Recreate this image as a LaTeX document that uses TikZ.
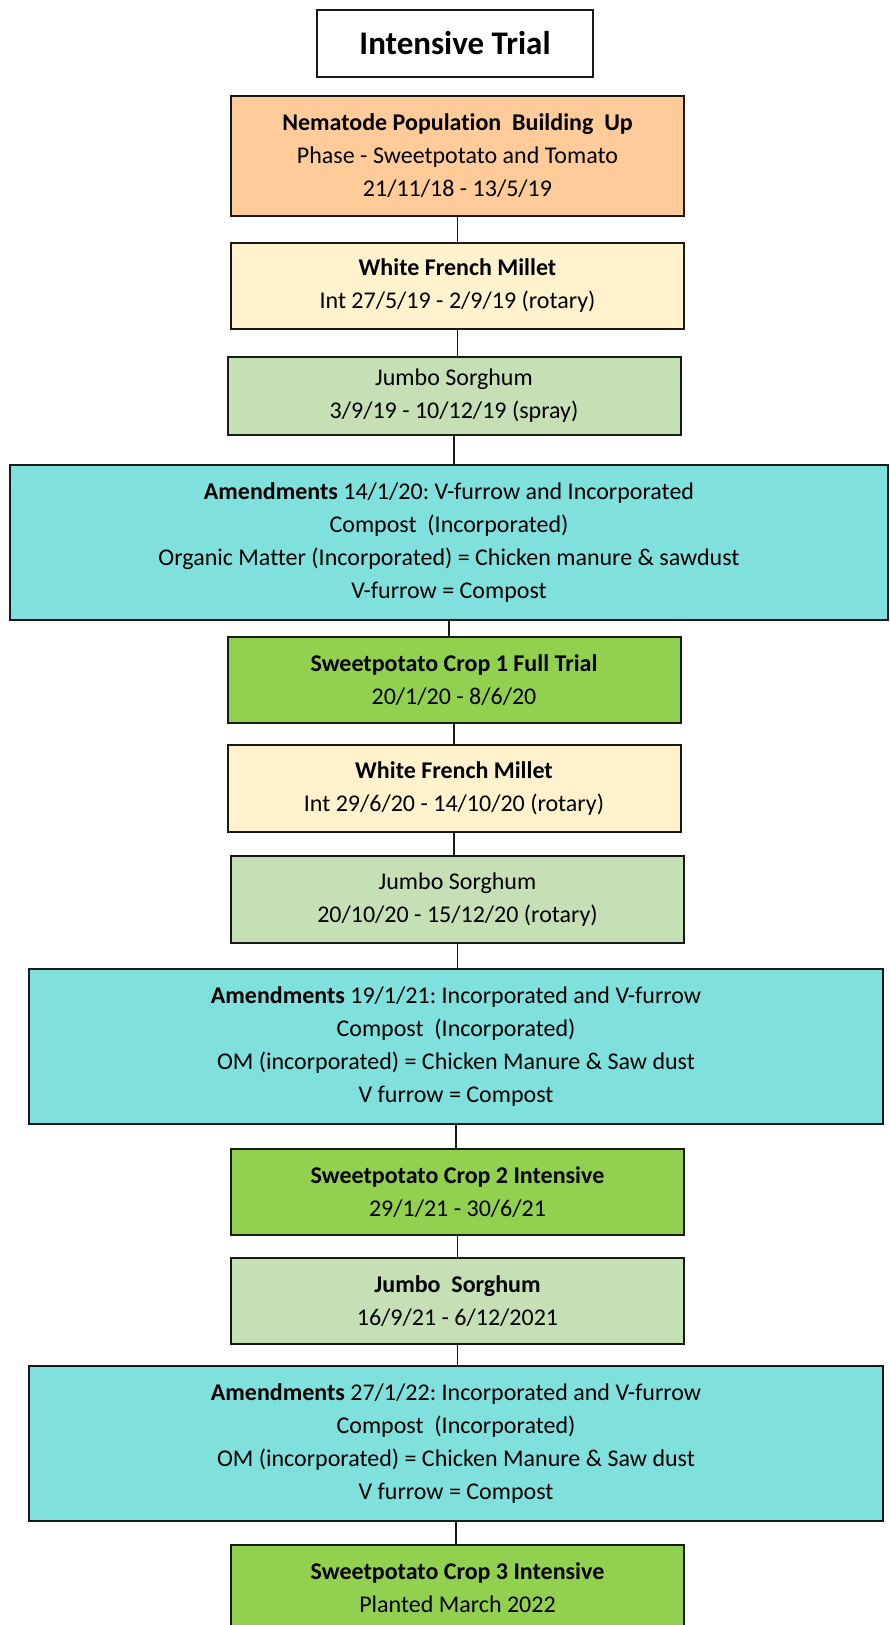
\documentclass[tikz,border=0pt]{standalone}
\usepackage{fontspec}
\setmainfont{Carlito}[Ligatures=NoCommon]
\frenchspacing
\definecolor{peach}{HTML}{FFCC99}
\definecolor{cream}{HTML}{FFF2CC}
\definecolor{sage}{HTML}{C5E0B4}
\definecolor{aqua}{HTML}{80E0DE}
\definecolor{leaf}{HTML}{92D050}
\begin{document}
\begin{tikzpicture}[x=1pt,y=-1pt,
  box/.style={draw=black!90,line width=2pt,inner sep=0pt,align=center,
    font=\fontsize{24}{33}\selectfont},
  narrow/.style={box,minimum width=453pt,minimum height=86pt},
  wide/.style={box,minimum height=155pt},
  link/.style={draw=black!90,line width=1.8pt}]
\useasboundingbox (0,0) rectangle (889,1625);
\clip (0,0) rectangle (889,1625);
\node[box,minimum width=276pt,minimum height=67pt,
  font=\fontsize{33}{40}\selectfont\bfseries] (title) at (455,43.5) {Intensive Trial};
\node[narrow,fill=peach,minimum height=120pt] (b1) at (457.5,156)
  {\textbf{Nematode Population~ Building~ Up}\\Phase - Sweetpotato and Tomato\\21/11/18 - 13/5/19};
\node[narrow,fill=cream] (b2) at (457.5,286)
  {\textbf{White French Millet}\\Int 27/5/19 - 2/9/19 (rotary)};
\node[narrow,fill=sage,minimum height=78pt] (b3) at (454,396)
  {Jumbo Sorghum\\3/9/19 - 10/12/19 (spray)};
\node[wide,fill=aqua,minimum width=878pt] (b4) at (449,542.5)
  {\textbf{Amendments} 14/1/20: V-furrow and Incorporated\\Compost~ (Incorporated)\\
   Organic Matter (Incorporated) = Chicken manure \& sawdust\\V-furrow = Compost};
\node[narrow,fill=leaf] (b5) at (454,680)
  {\textbf{Sweetpotato Crop 1 Full Trial}\\20/1/20 - 8/6/20};
\node[narrow,fill=cream,minimum height=87pt] (b6) at (454,788.5)
  {\textbf{White French Millet}\\Int 29/6/20 - 14/10/20 (rotary)};
\node[narrow,fill=sage,minimum height=87pt] (b7) at (457.5,899.5)
  {Jumbo Sorghum\\20/10/20 - 15/12/20 (rotary)};
\node[wide,fill=aqua,minimum width=854pt] (b8) at (456,1046.5)
  {\textbf{Amendments} 19/1/21: Incorporated and V-furrow\\Compost~ (Incorporated)\\
   OM (incorporated) = Chicken Manure \& Saw dust\\V furrow = Compost};
\node[narrow,fill=leaf] (b9) at (457.5,1192)
  {\textbf{Sweetpotato Crop 2 Intensive}\\29/1/21 - 30/6/21};
\node[narrow,fill=sage] (b10) at (457.5,1301)
  {\textbf{Jumbo~ Sorghum}\\16/9/21 - 6/12/2021};
\node[wide,fill=aqua,minimum width=854pt] (b11) at (456,1443.5)
  {\textbf{Amendments} 27/1/22: Incorporated and V-furrow\\Compost~ (Incorporated)\\
   OM (incorporated) = Chicken Manure \& Saw dust\\V furrow = Compost};
\node[narrow,fill=leaf] (b12) at (457.5,1588)
  {\textbf{Sweetpotato Crop 3 Intensive}\\Planted March 2022};
\foreach \a/\b in {b1/b2,b2/b3,b3/b4,b4/b5,b5/b6,b6/b7,b7/b8,b8/b9,b9/b10,b10/b11,b11/b12}
{
    \draw[link] (\a.south) -- (\a.south |- \b.north);
}
\end{tikzpicture}
\end{document}
